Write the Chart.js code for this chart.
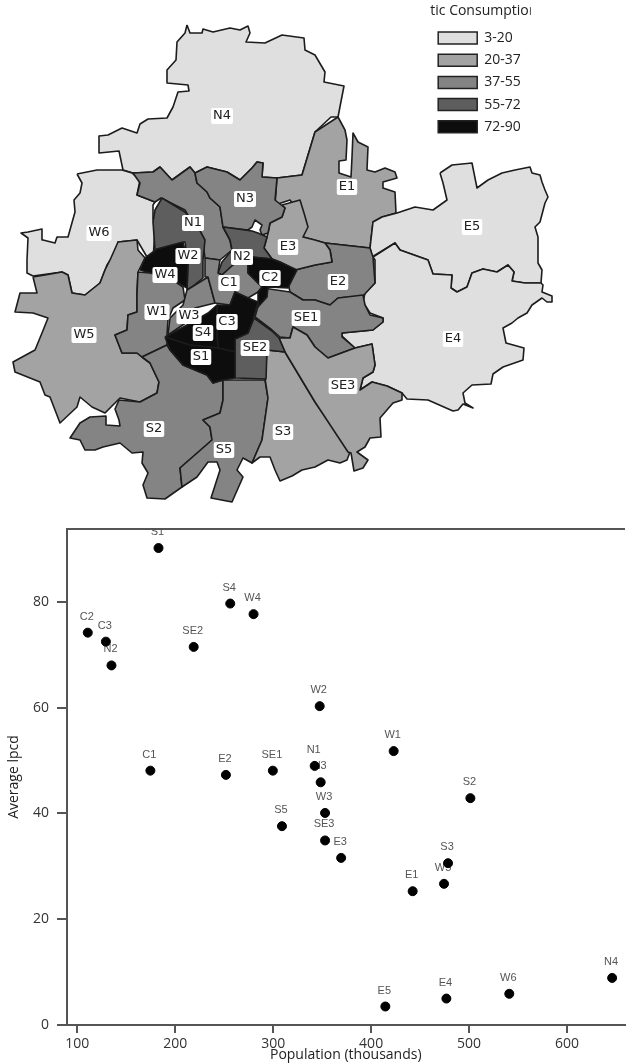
<!DOCTYPE html>
<html>
<head>
<meta charset="utf-8">
<title>Domestic consumption by zone</title>
<script src="https://cdn.jsdelivr.net/npm/chart.js@4/dist/chart.umd.min.js"></script>
<style>
  html, body { margin: 0; padding: 0; background: #fff; }
  canvas { position: absolute; left: 0; }
  #mapChart { top: 0; }
  #scatterChart { top: 510px; }
</style>
</head>
<body>
<canvas id="mapChart" width="630" height="510"></canvas>
<canvas id="scatterChart" width="630" height="553"></canvas>
<script>
// zone data
var zones = ['S1','C2','C3','N2','SE2','S4','W4','C1','E2','SE1','S5','W2','N1','N3','W1','W3','SE3','E3','S2','S3','W5','E1','E5','E4','W6','N4'];
var population = [183,110.8,129.3,135,218.9,256.2,280,174.7,251.8,299.7,309,347.5,342.4,348.5,423,353,353,369.4,501.3,478.5,474.4,442.4,414.5,476.8,541,646];
var avgLpcd = [90.2,74.2,72.5,68,71.5,79.7,77.7,48.1,47.3,48.1,37.6,60.3,49,45.9,51.8,40.1,34.9,31.6,42.9,30.6,26.7,25.3,3.5,5,5.9,8.9];

var xTicks = [100,200,300,400,500,600];
var yTicks = [0,20,40,60,80];

var classLabels = ['3-20','20-37','37-55','55-72','72-90'];
var classUpper = [20,37,55,72,90];
var classGreys = ['#dfdfdf','#a3a3a3','#848484','#5e5e5e','#0d0d0d'];

var outlineN4 = [[187,25],[190,33],[202,33],[203,29],[213,32],[230,28],[240,30],[248,26],[250,33],[246,42],[265,43],[282,35],[304,38],[305,50],[315,55],[325,72],[324,82],[344,86],[338,117],[331,117],[315,132],[302,175],[277,178],[262,177],[263,163],[257,162],[252,168],[240,180],[227,172],[207,167],[195,173],[190,167],[172,180],[160,167],[153,172],[133,173],[123,170],[119,151],[99,153],[99,136],[108,135],[122,128],[137,133],[140,124],[148,119],[167,118],[173,107],[178,92],[189,91],[188,85],[167,83],[167,70],[176,60],[177,42],[185,33]];
var outlineE1 = [[338,117],[345,130],[347,140],[346,160],[339,161],[339,173],[351,177],[352,157],[353,133],[358,142],[368,147],[367,170],[375,172],[385,168],[395,172],[397,178],[383,182],[383,188],[395,192],[396,213],[382,217],[373,222],[370,248],[325,243],[303,237],[300,215],[290,200],[275,205],[277,178],[302,175],[315,132]];
var outlineE5 = [[440,173],[452,165],[472,163],[477,188],[488,180],[502,173],[515,170],[530,167],[532,173],[540,175],[542,182],[545,190],[548,197],[545,203],[540,222],[535,227],[538,237],[538,263],[542,270],[541,283],[525,283],[512,281],[514,272],[508,265],[497,272],[483,269],[472,273],[467,287],[457,292],[451,288],[452,275],[433,274],[428,260],[400,250],[395,243],[372,257],[370,248],[373,222],[382,217],[397,213],[415,207],[433,210],[447,200],[443,183]];
var outlineE4 = [[373,257],[395,243],[400,250],[428,260],[433,274],[452,275],[451,288],[457,292],[467,287],[472,273],[483,269],[497,272],[508,265],[514,272],[512,281],[525,283],[541,283],[543,285],[542,292],[552,296],[552,302],[547,302],[542,298],[532,305],[527,313],[518,318],[512,323],[503,328],[506,343],[524,348],[523,360],[503,367],[493,374],[491,384],[472,385],[463,393],[465,403],[473,408],[463,404],[458,410],[453,411],[428,400],[407,399],[402,393],[387,386],[372,382],[360,390],[363,378],[373,372],[375,365],[372,344],[355,348],[342,336],[342,333],[373,330],[383,322],[383,318],[370,313],[363,302],[365,293],[375,283],[375,260]];
var outlineE2 = [[325,243],[370,248],[373,257],[375,283],[363,296],[338,298],[330,305],[315,300],[303,300],[290,292],[288,283],[295,270],[315,265],[332,262],[330,250]];
var outlineSE1 = [[263,288],[290,292],[303,300],[315,300],[330,305],[338,298],[363,295],[365,305],[370,315],[383,318],[383,322],[373,330],[342,333],[342,337],[355,348],[328,358],[315,347],[307,335],[293,327],[290,338],[280,337],[272,330],[255,317]];
var outlineE3 = [[282,205],[300,200],[304,213],[308,227],[303,237],[315,240],[325,243],[330,250],[332,262],[315,265],[295,270],[280,262],[272,259],[264,248],[267,237],[268,233],[270,223],[282,217],[285,208]];
var outlineN1 = [[133,173],[153,172],[160,167],[172,180],[190,167],[195,173],[197,183],[207,192],[210,198],[220,207],[223,227],[230,240],[232,250],[220,260],[205,258],[203,243],[185,210],[161,198],[155,202],[137,195],[140,183]];
var outlineN3 = [[195,173],[207,167],[227,172],[240,180],[252,168],[257,162],[263,163],[262,177],[277,178],[275,200],[285,208],[282,217],[270,223],[268,233],[262,235],[260,230],[262,225],[255,220],[252,227],[248,230],[223,227],[220,207],[210,198],[207,192],[197,183]];
var outlineN2 = [[223,227],[252,231],[258,233],[267,237],[264,248],[272,259],[252,257],[233,265],[222,275],[218,273],[222,262],[232,250],[230,240]];
var outlineW2 = [[162,198],[185,212],[198,227],[205,240],[203,260],[203,278],[192,287],[187,290],[188,263],[185,242],[155,250],[153,222],[155,210]];
var outlineW4 = [[140,270],[145,258],[157,249],[183,242],[188,263],[187,288],[170,278],[150,273]];
var outlineW1 = [[138,272],[150,273],[170,278],[183,287],[185,300],[173,308],[168,320],[167,335],[167,345],[142,357],[137,353],[122,353],[115,335],[127,330],[128,315],[137,312],[137,293]];
var outlineW3 = [[187,290],[208,277],[215,303],[195,308],[190,320],[168,335],[170,318],[183,305]];
var outlineW5 = [[33,277],[37,293],[20,293],[15,312],[33,313],[48,318],[42,333],[35,350],[13,362],[15,372],[40,382],[45,395],[50,397],[60,423],[77,407],[80,397],[92,407],[105,413],[120,398],[140,402],[157,393],[159,382],[150,363],[142,357],[137,353],[122,353],[115,335],[127,330],[128,315],[137,312],[137,293],[138,272],[145,258],[138,250],[137,240],[118,242],[110,260],[105,270],[100,283],[85,295],[72,293],[68,275],[62,272],[45,275]];
var outlineW6 = [[77,174],[82,183],[80,193],[74,200],[75,212],[68,237],[57,237],[55,243],[43,240],[42,229],[28,232],[21,233],[28,238],[27,260],[27,273],[33,276],[62,272],[68,275],[72,293],[85,295],[100,283],[107,265],[117,250],[118,242],[137,240],[147,257],[153,260],[155,230],[153,218],[153,205],[155,202],[137,195],[140,180],[132,173],[122,170],[97,170]];
var outlineC1 = [[205,258],[220,260],[218,273],[222,275],[233,265],[248,255],[248,273],[262,287],[258,292],[248,298],[235,292],[230,305],[215,303],[208,277],[205,277]];
var outlineC2 = [[252,257],[272,259],[280,262],[297,270],[288,288],[268,287],[267,297],[258,307],[258,292],[262,287],[248,273],[248,258]];
var outlineC3 = [[217,305],[230,305],[235,292],[248,298],[258,302],[253,320],[248,333],[235,339],[235,352],[218,348],[217,335]];
var outlineS4 = [[165,337],[187,325],[208,313],[217,305],[217,335],[218,348],[190,345]];
var outlineS1 = [[165,337],[190,345],[218,348],[235,352],[235,378],[223,380],[213,383],[207,375],[183,365],[170,350]];
var outlineSE2 = [[235,339],[248,333],[254,318],[272,331],[279,338],[285,352],[267,350],[266,379],[235,378]];
var outlineS3 = [[267,350],[285,352],[315,402],[350,452],[347,460],[340,463],[328,460],[315,467],[302,470],[292,476],[280,481],[275,470],[270,457],[260,457],[252,463],[262,440],[268,398],[265,378]];
var outlineSE3 = [[285,352],[279,338],[290,338],[293,327],[307,335],[315,347],[328,358],[355,348],[372,344],[375,365],[373,372],[363,378],[360,390],[372,382],[387,386],[402,393],[402,400],[393,403],[380,418],[381,437],[370,438],[365,447],[357,452],[368,460],[363,468],[354,471],[351,453],[348,452],[315,402]];
var outlineS5 = [[223,380],[265,380],[268,398],[262,440],[252,463],[243,458],[237,470],[243,477],[232,502],[211,498],[220,470],[217,462],[208,462],[197,477],[182,487],[180,468],[212,440],[210,427],[203,420],[220,413],[223,400]];
var outlineS2 = [[142,357],[167,345],[170,350],[183,365],[207,375],[213,383],[223,380],[223,400],[220,413],[203,420],[210,427],[212,440],[180,468],[182,487],[165,499],[147,498],[143,485],[148,473],[142,463],[143,452],[132,453],[120,443],[103,447],[95,450],[85,450],[80,440],[70,438],[80,423],[90,417],[106,416],[106,425],[120,426],[119,420],[115,409],[119,400],[140,402],[157,393],[159,382],[150,363]];

// drawing order for the map, last one goes on top
var mapZones = ['N4','W6','W5','E1','E5','E4','E2','SE1','E3','N1','N3','W2','N2','W4','W1','W3','C1','C2','S2','S5','S3','SE3','SE2','C3','S4','S1'];
var mapOutlines = [outlineN4,outlineW6,outlineW5,outlineE1,outlineE5,outlineE4,outlineE2,outlineSE1,outlineE3,outlineN1,outlineN3,outlineW2,outlineN2,outlineW4,outlineW1,outlineW3,outlineC1,outlineC2,outlineS2,outlineS5,outlineS3,outlineSE3,outlineSE2,outlineC3,outlineS4,outlineS1];
var mapLabelX = [222,99,84,347,472,453,338,306,288,193,245,188,242,165,157,189,229,270,154,224,283,343,255,227,203,201];
var mapLabelY = [116,233,335,187,227,339,282,318,247,223,199,256,257,275,312,316,283,278,429,450,432,386,348,322,333,357];

function greyFor(zone) {
    var v = avgLpcd[zones.indexOf(zone)];
    for (var i = 0; i < classUpper.length; i++) {
        if (v <= classUpper[i]) return classGreys[i];
    }
    return classGreys[classGreys.length - 1];
}

var mapDatasets = mapZones.map(function (z, i) {
    var pts = mapOutlines[i].concat([mapOutlines[i][0]]);
    return {
        label: z,
        data: pts.map(function (p) { return { x: p[0], y: p[1] }; }),
        showLine: true,
        tension: 0,
        pointRadius: 0,
        fill: 'shape',
        backgroundColor: greyFor(z),
        borderColor: '#1c1c1c',
        borderWidth: 1.6,
        borderJoinStyle: 'round',
        order: mapZones.length - i
    };
});

var mapLabelsPlugin = {
    id: 'mapLabels',
    afterLayout: function (chart) {
        // move the class key into the free corner of the map
        var lg = chart.legend;
        var w = lg.width;
        lg.left = 430; lg.right = 430 + w; lg.top = 3;
    },
    afterDatasetsDraw: function (chart) {
        var ctx = chart.ctx;
        ctx.save();
        ctx.font = '13px "DejaVu Sans"';
        ctx.textAlign = 'center';
        ctx.textBaseline = 'middle';
        mapZones.forEach(function (z, i) {
            var x = chart.scales.x.getPixelForValue(mapLabelX[i]);
            var y = chart.scales.y.getPixelForValue(mapLabelY[i]);
            var w = ctx.measureText(z).width + 4;
            ctx.fillStyle = '#fff';
            ctx.beginPath();
            ctx.roundRect(x - w / 2, y - 8, w, 16, 2);
            ctx.fill();
            ctx.fillStyle = '#222';
            ctx.fillText(z, x, y);
        });
        ctx.restore();
    }
};

new Chart(document.getElementById('mapChart'), {
    type: 'scatter',
    data: { datasets: mapDatasets },
    plugins: [mapLabelsPlugin],
    options: {
        responsive: false,
        animation: false,
        layout: { padding: 0 },
        scales: {
            x: { display: false, min: 0, max: 630 },
            y: { display: false, min: 0, max: 510, reverse: true }
        },
        plugins: {
            tooltip: { enabled: false },
            legend: {
                position: 'chartArea',
                align: 'start',
                title: {
                    display: true,
                    text: 'Domestic Consumption (lpcd)',
                    color: '#222',
                    font: { family: '"Open Sans"', size: 14 },
                    padding: { top: 1, bottom: 2 }
                },
                labels: {
                    boxWidth: 39,
                    boxHeight: 12,
                    padding: 8.2,
                    color: '#333',
                    font: { family: '"Open Sans"', size: 14 },
                    generateLabels: function () {
                        return classLabels.map(function (t, i) {
                            return { text: t, fillStyle: classGreys[i], strokeStyle: '#222', lineWidth: 1.5, hidden: false, datasetIndex: i };
                        });
                    }
                }
            }
        }
    }
});

var pointLabelsPlugin = {
    id: 'pointLabels',
    beforeDatasetsDraw: function (chart) {
        var ctx = chart.ctx;
        var a = chart.chartArea;
        ctx.save();
        ctx.beginPath();
        ctx.rect(a.left, a.top, a.right - a.left, a.bottom - a.top);
        ctx.clip();
        ctx.font = '11px "Liberation Sans"';
        ctx.fillStyle = '#555';
        ctx.textAlign = 'center';
        ctx.textBaseline = 'middle';
        zones.forEach(function (z, i) {
            var x = chart.scales.x.getPixelForValue(population[i]);
            var y = chart.scales.y.getPixelForValue(avgLpcd[i]);
            ctx.fillText(z, x - 1, y - 16);
        });
        ctx.restore();
    }
};

new Chart(document.getElementById('scatterChart'), {
    type: 'scatter',
    data: {
        datasets: [{
            label: 'Average lpcd',
            data: population.map(function (p, i) { return { x: p, y: avgLpcd[i] }; }),
            backgroundColor: '#000',
            borderColor: '#000',
            pointRadius: 4.5
        }]
    },
    plugins: [pointLabelsPlugin],
    options: {
        responsive: false,
        animation: false,
        layout: { padding: 0 },
        scales: {
            x: {
                min: 89.6,
                max: 658.6,
                afterFit: function (s) { s.height = 38; },
                afterBuildTicks: function (s) { s.ticks = xTicks.map(function (v) { return { value: v }; }); },
                border: { color: '#555', width: 2 },
                grid: { drawOnChartArea: false, color: '#555', lineWidth: 2, tickLength: 8 },
                ticks: { color: '#333', maxRotation: 0, padding: 3, font: { family: '"Open Sans"', size: 14 } },
                title: { display: true, text: 'Population (thousands)', color: '#222', padding: 0, font: { family: '"Open Sans"', size: 14 } }
            },
            xTop: {
                axis: 'x',
                position: 'top',
                min: 89.6,
                max: 658.6,
                afterFit: function (s) { s.height = 19; },
                border: { color: '#555', width: 2 },
                grid: { drawOnChartArea: false, drawTicks: false },
                ticks: { display: false }
            },
            y: {
                min: 0,
                max: 93.8,
                afterFit: function (s) { s.width = 67; },
                afterBuildTicks: function (s) { s.ticks = yTicks.map(function (v) { return { value: v }; }); },
                border: { color: '#555', width: 2 },
                grid: { drawOnChartArea: false, color: '#555', lineWidth: 2, tickLength: 10 },
                ticks: { color: '#333', padding: 8, font: { family: '"Open Sans"', size: 14 } },
                title: { display: true, text: 'Average lpcd', color: '#222', padding: { top: 6, bottom: 0 }, font: { family: '"Open Sans"', size: 14 } }
            }
        },
        plugins: {
            legend: { display: false },
            tooltip: { enabled: false }
        }
    }
});
</script>
</body>
</html>
